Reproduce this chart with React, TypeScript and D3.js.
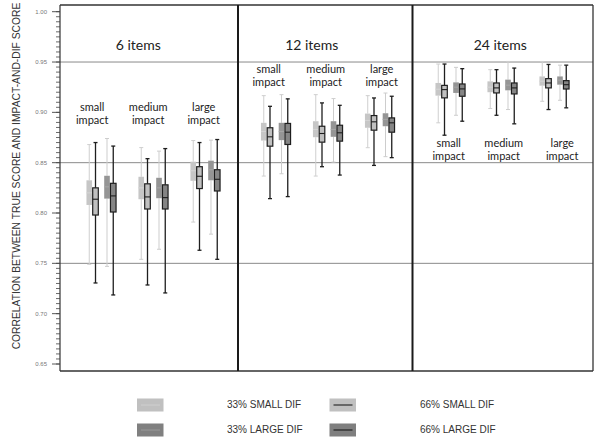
import React from "react";
import * as d3 from "d3";

// ---------- data ----------
const panels = ["6 items", "12 items", "24 items"];
const impacts = ["small", "medium", "large"];
const seriesNames = ["33% SMALL DIF", "66% SMALL DIF", "33% LARGE DIF", "66% LARGE DIF"];
const yTickLabels = ["0.65", "0.70", "0.75", "0.80", "0.85", "0.90", "0.95", "1.00"];
const gridValues = [0.95, 0.85, 0.75];

// each entry: [whisker low, Q1, median, Q3, whisker high]; groups ordered
// 6 items (small, medium, large), 12 items (...), 24 items (...)
const small33 = [
  [0.749, 0.808, 0.82, 0.8325, 0.868],
  [0.754, 0.8137, 0.825, 0.836, 0.865],
  [0.791, 0.832, 0.842, 0.851, 0.872],
  [0.8367, 0.872, 0.881, 0.8896, 0.9166],
  [0.8367, 0.8753, 0.883, 0.8912, 0.9176],
  [0.8649, 0.8847, 0.892, 0.8988, 0.9166],
  [0.8896, 0.9166, 0.923, 0.9292, 0.948],
  [0.9038, 0.92, 0.925, 0.9308, 0.9424],
  [0.911, 0.9265, 0.931, 0.9357, 0.9506],
];
const small66 = [
  [0.7305, 0.798, 0.8137, 0.825, 0.87],
  [0.7285, 0.804, 0.816, 0.829, 0.854],
  [0.763, 0.8243, 0.8365, 0.846, 0.87],
  [0.8143, 0.8664, 0.8757, 0.8847, 0.906],
  [0.846, 0.8704, 0.879, 0.8862, 0.9094],
  [0.8473, 0.8823, 0.8906, 0.8968, 0.9143],
  [0.8773, 0.9144, 0.9226, 0.9268, 0.948],
  [0.8971, 0.9193, 0.9243, 0.9292, 0.9424],
  [0.9028, 0.9243, 0.9292, 0.9335, 0.9476],
];
const large33 = [
  [0.747, 0.8143, 0.826, 0.837, 0.874],
  [0.764, 0.8147, 0.825, 0.835, 0.8615],
  [0.779, 0.8325, 0.843, 0.852, 0.8724],
  [0.839, 0.8724, 0.881, 0.8896, 0.9176],
  [0.8506, 0.8757, 0.883, 0.8912, 0.9137],
  [0.856, 0.8862, 0.893, 0.8991, 0.9192],
  [0.8971, 0.9193, 0.925, 0.9298, 0.9447],
  [0.9028, 0.9219, 0.927, 0.9325, 0.9506],
  [0.912, 0.9275, 0.932, 0.9357, 0.9469],
];
const large66 = [
  [0.7186, 0.801, 0.817, 0.8295, 0.8665],
  [0.7206, 0.804, 0.8153, 0.828, 0.864],
  [0.754, 0.8219, 0.8335, 0.843, 0.873],
  [0.8163, 0.8681, 0.8803, 0.889, 0.9134],
  [0.8377, 0.8714, 0.8797, 0.8872, 0.907],
  [0.855, 0.8803, 0.8896, 0.8945, 0.916],
  [0.8912, 0.916, 0.9233, 0.9282, 0.9434],
  [0.8886, 0.9183, 0.9243, 0.9292, 0.944],
  [0.9045, 0.9232, 0.9275, 0.9315, 0.9469],
];

// ---------- styles / layout ----------
const W = 600;
const H = 442;
const frame = { left: 60, right: 593, top: 5, bottom: 371 };
const seriesData = [small33, small66, large33, large66];
const seriesStyle = [
  { fill: "#c6c6c6", stroke: "none", whisker: "#cfcfcf", median: "#d4d4d4", ww: 1 },
  { fill: "#c0c0c0", stroke: "#1e1e1e", whisker: "#1e1e1e", median: "#1e1e1e", ww: 1.3 },
  { fill: "#959595", stroke: "none", whisker: "#cdcdcd", median: "#a6a6a6", ww: 1 },
  { fill: "#858585", stroke: "#1e1e1e", whisker: "#1e1e1e", median: "#1e1e1e", ww: 1.3 },
];
const legendSwatch = [
  { fill: "#c0c0c0", line: "#cfcfcf" },
  { fill: "#c0c0c0", line: "#111" },
  { fill: "#808080", line: "#999" },
  { fill: "#7f7f7f", line: "#111" },
];
// label placement per panel
const titleDx = [-15, -16, -2];
const impactBaseline = [111, 73, 147];
const impactDx = [
  [-9, -5, -1.5],
  [-7, -2, 2],
  [-1.5, 1.5, 8],
];

const FONT = "Lato, 'Open Sans', sans-serif";
const AXISFONT = "'Liberation Sans', Arial, sans-serif";

export default function App() {
  const y = d3.scaleLinear().domain([0.65, 1.0]).range([364, 11.7]);
  const xPanel = d3.scaleBand<string>().domain(panels).range([66, 589.5]).paddingInner(0).paddingOuter(0);
  const xImpact = d3
    .scaleBand<string>()
    .domain(impacts)
    .range([0, xPanel.bandwidth()])
    .padding(0.356);
  const xPair = d3.scaleBand<string>().domain(["small", "large"]).range([-17.75, 17.75]);
  const xPct = d3.scaleBand<string>().domain(["33", "66"]).range([-6.25, 6.25]);
  const seriesPair = ["small", "small", "large", "large"];
  const seriesPct = ["33", "66", "33", "66"];
  const boxW = 5.6;
  const capW = 4;

  const groupCenter = (gi: number) => {
    const p = panels[Math.floor(gi / 3)];
    const im = impacts[gi % 3];
    return (xPanel(p) as number) + (xImpact(im) as number) + xImpact.bandwidth() / 2;
  };
  const seriesOffset = (si: number) =>
    (xPair(seriesPair[si]) as number) + xPair.bandwidth() / 2 + (xPct(seriesPct[si]) as number) + xPct.bandwidth() / 2;

  const minorTicks = d3.range(0, 71).map((i) => 0.65 + i * 0.005);

  const boxes: React.ReactNode[] = [];
  seriesData.forEach((arr, si) => {
    const st = seriesStyle[si];
    arr.forEach((d, gi) => {
      const cx = groupCenter(gi) + seriesOffset(si);
      const [lo, q1, med, q3, hi] = d;
      boxes.push(
        <g key={`b${si}-${gi}`}>
          <line x1={cx} x2={cx} y1={y(hi)} y2={y(q3)} stroke={st.whisker} strokeWidth={st.ww} />
          <line x1={cx} x2={cx} y1={y(q1)} y2={y(lo)} stroke={st.whisker} strokeWidth={st.ww} />
          <line x1={cx - capW / 2} x2={cx + capW / 2} y1={y(hi)} y2={y(hi)} stroke={st.whisker} strokeWidth={st.ww} />
          <line x1={cx - capW / 2} x2={cx + capW / 2} y1={y(lo)} y2={y(lo)} stroke={st.whisker} strokeWidth={st.ww} />
          <rect
            x={cx - boxW / 2}
            y={y(q3)}
            width={boxW}
            height={y(q1) - y(q3)}
            fill={st.fill}
            stroke={st.stroke}
            strokeWidth={st.stroke === "none" ? 0 : 1.2}
          />
          <line x1={cx - boxW / 2} x2={cx + boxW / 2} y1={y(med)} y2={y(med)} stroke={st.median} strokeWidth={1.1} />
        </g>
      );
    });
  });

  const dividers = panels.slice(1).map((p) => (xPanel(p) as number) - 2.5);

  const legendPos = [
    { x: 137, y: 398.5, tx: 227 },
    { x: 329.5, y: 398.5, tx: 420 },
    { x: 137, y: 423.5, tx: 227 },
    { x: 329.5, y: 423.5, tx: 420 },
  ];

  return (
    <svg width={W} height={H} style={{ position: "absolute", left: 0, top: 0, background: "#fff" }}>
      <rect x={0} y={0} width={W} height={H} fill="#fff" />
      {gridValues.map((v) => (
        <line key={v} x1={frame.left} x2={frame.right} y1={y(v)} y2={y(v)} stroke="#8a8a8a" strokeWidth={1} />
      ))}
      <line x1={frame.left} x2={frame.right} y1={frame.top} y2={frame.top} stroke="#333" strokeWidth={1.3} />
      <line x1={frame.left} x2={frame.right} y1={frame.bottom} y2={frame.bottom} stroke="#333" strokeWidth={1.3} />
      <line x1={frame.right} x2={frame.right} y1={frame.top} y2={frame.bottom} stroke="#333" strokeWidth={1.3} />
      {dividers.map((dx, i) => (
        <line key={i} x1={dx} x2={dx} y1={frame.top} y2={frame.bottom} stroke="#1a1a1a" strokeWidth={2} />
      ))}
      <line x1={frame.left} x2={frame.left} y1={frame.top} y2={frame.bottom} stroke="#333" strokeWidth={1.2} />
      {minorTicks.map((v, i) => (
        <line key={`m${i}`} x1={frame.left - 4} x2={frame.left} y1={y(v)} y2={y(v)} stroke="#444" strokeWidth={0.8} />
      ))}
      {yTickLabels.map((t) => (
        <g key={t}>
          <line x1={frame.left - 8} x2={frame.left} y1={y(+t)} y2={y(+t)} stroke="#444" strokeWidth={0.9} />
          <text
            x={frame.left - 13}
            y={y(+t)}
            dy="0.35em"
            textAnchor="end"
            fontSize={6}
            fill="#777"
            fontFamily={AXISFONT}
          >
            {t}
          </text>
        </g>
      ))}
      <text
        transform={`translate(20, ${(12 + 340) / 2}) rotate(-90)`}
        textAnchor="middle"
        fontSize={10.3}
        fill="#333"
        fontFamily={AXISFONT}
      >
        CORRELATION BETWEEN TRUE SCORE AND IMPACT-AND-DIF SCORE
      </text>
      {panels.map((p, i) => (
        <text
          key={p}
          x={(xPanel(p) as number) + xPanel.bandwidth() / 2 + titleDx[i]}
          y={50}
          textAnchor="middle"
          fontSize={14}
          fill="#222"
          fontFamily={FONT}
        >
          {p}
        </text>
      ))}
      {panels.map((p, pi) =>
        impacts.map((im, ii) => {
          const cx = groupCenter(pi * 3 + ii) + impactDx[pi][ii];
          return (
            <text key={`${p}-${im}`} x={cx} y={impactBaseline[pi]} textAnchor="middle" fontSize={11} fill="#222" fontFamily={FONT}>
              <tspan x={cx}>{im}</tspan>
              <tspan x={cx} dy={13}>
                impact
              </tspan>
            </text>
          );
        })
      )}
      {boxes}
      {seriesNames.map((n, i) => {
        const lp = legendPos[i];
        const sw = legendSwatch[i];
        return (
          <g key={n}>
            <rect x={lp.x} y={lp.y} width={26.5} height={13} fill={sw.fill} />
            <line x1={lp.x + 4} x2={lp.x + 23} y1={lp.y + 6.5} y2={lp.y + 6.5} stroke={sw.line} strokeWidth={1} />
            <text x={lp.tx} y={lp.y + 9.5} fontSize={10} fill="#333" fontFamily={AXISFONT}>
              {n}
            </text>
          </g>
        );
      })}
    </svg>
  );
}
